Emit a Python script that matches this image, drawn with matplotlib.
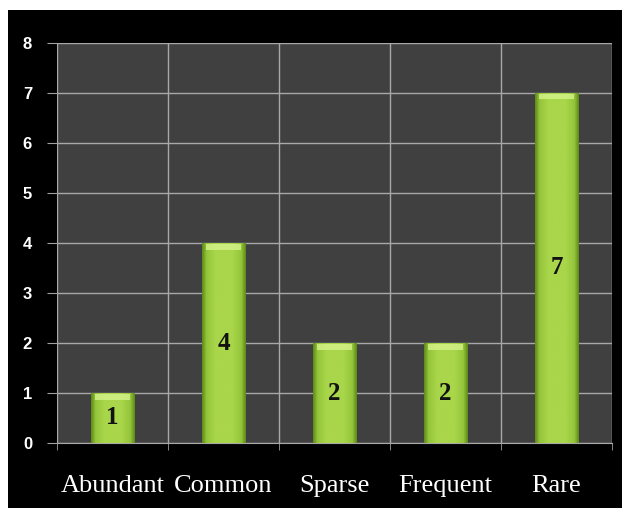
import matplotlib
matplotlib.use("Agg")
import matplotlib.pyplot as plt
import numpy as np
from matplotlib.patches import Rectangle
from matplotlib.colors import LinearSegmentedColormap

categories = ["Abundant", "Common", "Sparse", "Frequent", "Rare"]
values = [1, 4, 2, 2, 7]
y_ticks = [0, 1, 2, 3, 4, 5, 6, 7, 8]

fig = plt.figure(figsize=(6.24, 5.16), dpi=100, facecolor="white")
fig.patches.append(Rectangle((8/624, 8/516), 614/624, 498/516, transform=fig.transFigure,
                             facecolor="black", edgecolor="none", zorder=-5))
ax = fig.add_axes([57/624, 73/516, 555/624, 400/516])
ax.set_facecolor("#404040")

x = np.arange(len(categories))
bars = ax.bar(x, values, width=0.39, color="#a6d145", edgecolor="none", zorder=3)

cmap = LinearSegmentedColormap.from_list(
    "g", [(0, "#5f8c18"), (0.1, "#94c53a"), (0.3, "#a9d64a"), (0.7, "#a9d64a"),
          (0.9, "#94c53a"), (1, "#5f8c18")])
grad = np.linspace(0, 1, 100).reshape(1, -1)
for b in bars:
    x0, w, h = b.get_x(), b.get_width(), b.get_height()
    im = ax.imshow(grad, cmap=cmap, extent=[x0, x0 + w, 0, h], aspect="auto", zorder=4)
    im.set_clip_path(b)
    ax.add_patch(Rectangle((x0 + w*0.1, h - 0.13), w*0.8, 0.11, facecolor="#d6f28c",
                           edgecolor="none", alpha=0.8, zorder=5))

for b, v in zip(bars, values):
    ax.text(b.get_x() + b.get_width()/2, v/2, str(v), ha="center", va="center",
            fontsize=18, fontweight="bold", family="Liberation Serif", color="#111111", zorder=6)

ax.set_xlim(-0.5, len(categories) - 0.5)
ax.set_ylim(0, 8)
ax.set_yticks(y_ticks)
ax.set_yticklabels([str(t) for t in y_ticks], color="white", fontsize=12, fontweight="bold",
                   family="Liberation Sans")
ax.set_xticks(x)
ax.set_xticklabels(categories, color="white", fontsize=19, family="Liberation Serif")
ax.set_xticks(np.arange(-0.5, len(categories)), minor=True)
ax.tick_params(axis="x", which="major", length=0, pad=23)
ax.tick_params(axis="x", which="minor", length=5, color="#a0a0a0", direction="out")
ax.tick_params(axis="y", length=7, color="#a0a0a0", pad=11)
ax.grid(axis="y", color="#a8a8a8", linewidth=1, zorder=1)
ax.grid(axis="x", which="minor", color="#a8a8a8", linewidth=1, zorder=1)
ax.set_axisbelow(True)
for s in ["top", "right", "left"]:
    ax.spines[s].set_visible(False)
ax.spines["bottom"].set_color("#a8a8a8")

fig.savefig("out.png", dpi=100, facecolor="white")
